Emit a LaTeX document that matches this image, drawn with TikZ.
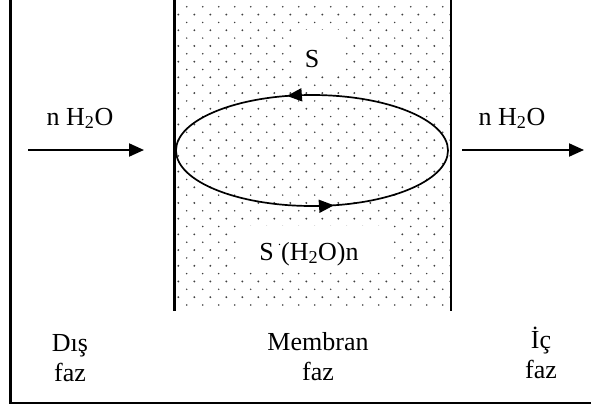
\documentclass[tikz,border=0pt]{standalone}
\usepackage{fontspec}
\setmainfont{Liberation Serif}
\usetikzlibrary{arrows.meta,decorations.markings}
\tikzset{
  lbl/.style={inner sep=0pt, anchor=base, align=center, font=\fontsize{26}{30}\selectfont},
  frameline/.style={line width=2.2pt},
  flow/.style={line width=2pt, -{Triangle[length=15pt,width=13pt]}},
}
\begin{document}
\begin{tikzpicture}[x=1pt,y=-1pt]
\useasboundingbox (0,0) rectangle (591,407);
% membrane dots
\begin{scope}
\clip (176,0) rectangle (450,310);
\foreach \j in {0,...,39}{
  \pgfmathsetmacro{\yy}{6.7+\j*7.85}
  \pgfmathsetmacro{\xo}{ifthenelse(mod(\j,2)==0,186.7,178.3)}
  \pgfmathsetmacro{\rr}{ifthenelse(mod(\j,2)==0,0.85,1.05)}
  \foreach \i in {-1,...,17}{
    \fill[black!75] (\xo+\i*16,\yy) circle[radius=\rr];
  }
}
\end{scope}
% white areas behind labels
\fill[white] (297,30) rectangle (340,72);
\fill[white] (238,226) rectangle (392,272);
% frame
\draw[frameline] (10.5,0) -- (10.5,403) -- (591,403);
% membrane walls
\draw[frameline] (174.5,0) -- (174.5,311);
\draw[frameline] (451,0) -- (451,311);
% carrier cycle
\draw[line width=1.7pt, decoration={markings,
   mark=at position 0.215 with {\arrowreversed{Triangle[length=15pt,width=13pt]}},
   mark=at position 0.71 with {\arrowreversed{Triangle[length=15pt,width=13pt]}}},
   postaction={decorate}]
   (312,150.5) ellipse[x radius=136, y radius=55.5];
% labels
\node[lbl] (s) at (312,67) {S};
\node[lbl] (sh) at (309,260) {S\,\raisebox{0.55em}{\fontsize{12}{12}\selectfont .}(H\textsubscript{2}O)n};
\node[lbl] (wl) at (80,125) {n H\textsubscript{2}O};
\node[lbl] (wr) at (512,125) {n H\textsubscript{2}O};
\node[lbl] (dis) at (70,381) {Dış\\faz};
\node[lbl] (mem) at (318,380) {Membran\\faz};
\node[lbl] (ic) at (541,378) {İç\\faz};
% water flow arrows
\coordinate (la) at (28,150);
\coordinate (lb) at (144,150);
\coordinate (ra) at (462,150);
\coordinate (rb) at (584,150);
\draw[flow] (la) -- (lb);
\draw[flow] (ra) -- (rb);
\end{tikzpicture}
\end{document}
